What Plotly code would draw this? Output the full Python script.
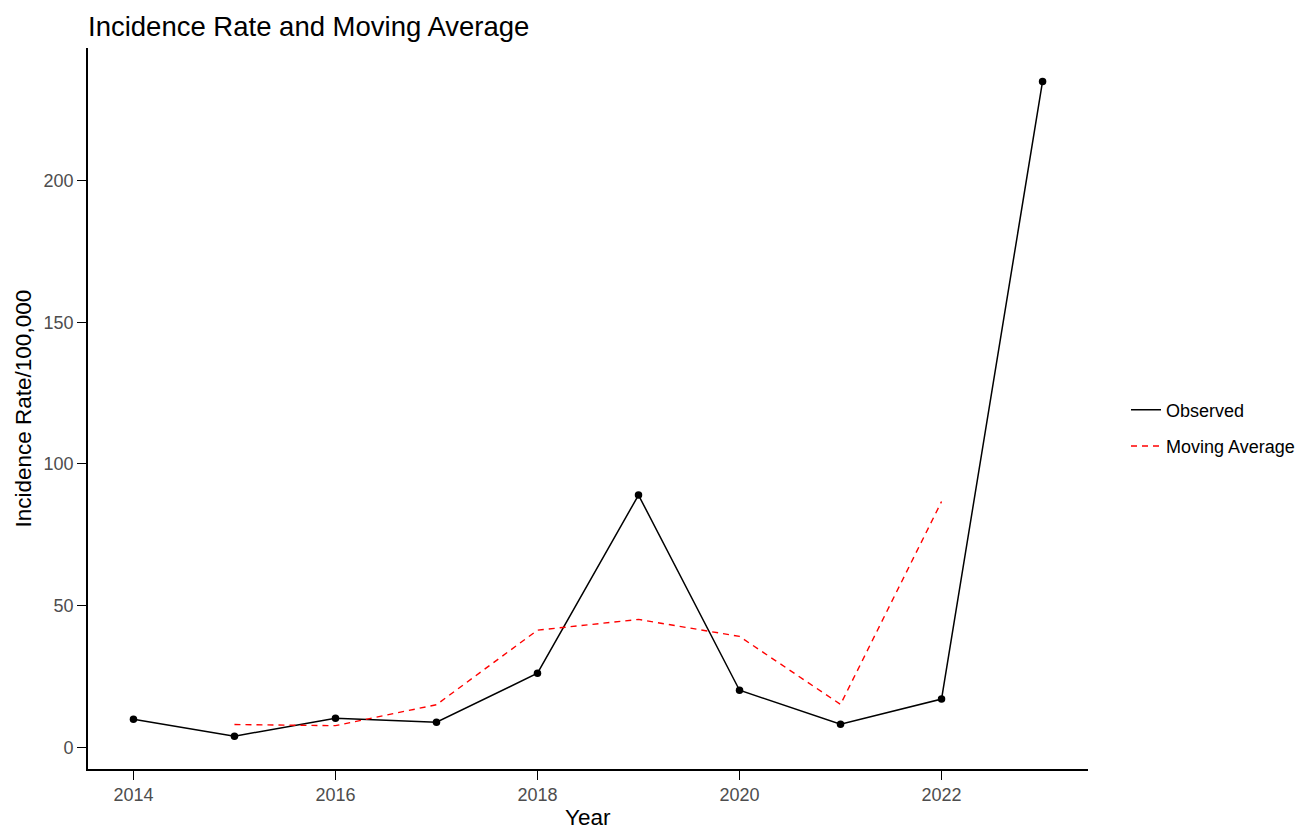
import plotly.graph_objects as go

years = [2014, 2015, 2016, 2017, 2018, 2019, 2020, 2021, 2022, 2023]
observed = [9.9, 3.9, 10.2, 8.8, 26.1, 89.0, 20.1, 8.1, 17.0, 235.0]
ma_years = [2015, 2016, 2017, 2018, 2019, 2020, 2021, 2022]
moving_avg = [8.0, 7.6, 15.0, 41.3, 45.1, 39.1, 15.1, 86.7]
x_ticks = [2014, 2016, 2018, 2020, 2022]
y_ticks = [0, 50, 100, 150, 200]

W, H = 1302, 830

fig = go.Figure()
fig.add_trace(go.Scatter(
    x=years, y=observed, mode="lines", name="Observed", legendgroup="obs",
    line=dict(color="black", width=1.5)))
fig.add_trace(go.Scatter(
    x=ma_years, y=moving_avg, mode="lines", name="Moving Average", legendgroup="ma",
    line=dict(color="#FF0000", width=1.4, dash="6px,5px")))
fig.add_trace(go.Scatter(
    x=years, y=observed, mode="markers", showlegend=False, legendgroup="obs",
    marker=dict(color="black", size=7.5)))

font_family = "Liberation Sans, Arial, sans-serif"
fig.update_layout(
    width=W, height=H,
    paper_bgcolor="white", plot_bgcolor="white",
    margin=dict(l=88, r=214, t=48, b=61, autoexpand=False),
    font=dict(family=font_family, color="black"),
    title=dict(text="Incidence Rate and Moving Average", x=88/W, xanchor="left",
               y=1-26/H, yanchor="middle", font=dict(size=27.5, color="black")),
    legend=dict(x=1.038, y=0.473, xanchor="left", yanchor="middle",
                traceorder="grouped", tracegroupgap=10,
                font=dict(size=18, color="black"), bgcolor="rgba(0,0,0,0)",
                itemwidth=30),
    xaxis=dict(range=[2013.55, 2023.45], tickvals=x_ticks, ticktext=[str(v) for v in x_ticks],
               showgrid=False, zeroline=False, showline=True, linecolor="black", linewidth=1.6,
               ticks="outside", ticklen=9, tickcolor="black", tickwidth=1.4,
               tickfont=dict(size=18, color="#4D4D4D"), automargin=False),
    yaxis=dict(range=[-7.7, 246.8], tickvals=y_ticks, ticktext=[str(v) for v in y_ticks],
               showgrid=False, zeroline=False, showline=True, linecolor="black", linewidth=1.6,
               ticks="outside", ticklen=9, tickcolor="black", tickwidth=1.4,
               tickfont=dict(size=18, color="#4D4D4D"), automargin=False),
    annotations=[
        dict(text="Year", xref="paper", yref="paper", x=0.5, y=0, yshift=-35,
             xanchor="center", yanchor="top", showarrow=False, borderpad=0,
             font=dict(size=22.5, color="black")),
        dict(text="Incidence Rate/100,000", xref="paper", yref="paper", x=-0.065, y=0.5,
             xanchor="center", yanchor="middle", textangle=-90, showarrow=False,
             font=dict(size=22.5, color="black")),
    ],
)
fig.write_html("out.html", config={"displayModeBar": False},
               post_script="document.body.style.margin='0';document.body.style.overflow='hidden';")
